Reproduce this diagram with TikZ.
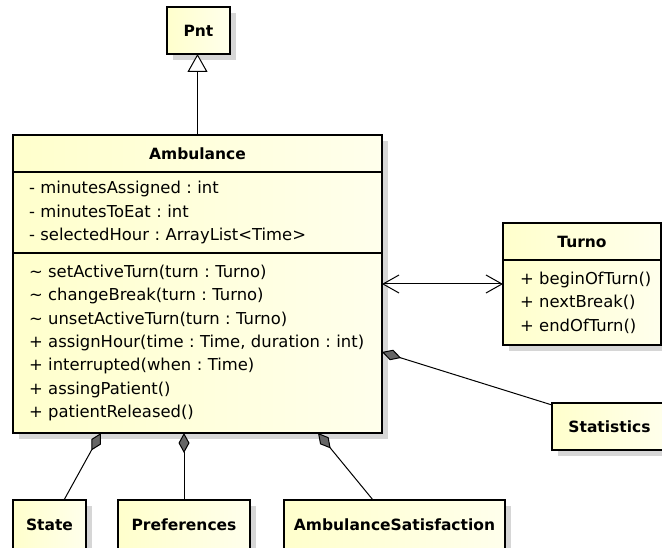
\documentclass[tikz,border=0pt]{standalone}
\usepackage{fontspec}
\setmainfont{DejaVu Sans}
\usepackage{tikz}
\usetikzlibrary{arrows.meta,positioning,shadows}
\definecolor{umlFillA}{RGB}{255,255,204}
\definecolor{umlFillB}{RGB}{255,255,236}
\definecolor{umlShade}{RGB}{214,214,214}
\newcommand\umlBodyFont{\fontsize{16.4}{23.4}\selectfont\frenchspacing\hyphenpenalty=10000 \exhyphenpenalty=10000 }
\tikzset{
  umlPart/.style={draw, line width=1.2pt, outer sep=0pt, inner sep=0pt, left color=umlFillA, right color=umlFillB, general shadow={fill=umlShade, shadow xshift=6pt, shadow yshift=-6pt}},
  umlHead/.style={umlPart, font=\fontsize{15.5}{18}\selectfont\bfseries, minimum height=37pt},
  umlBody/.style={umlPart, align=left, font=\umlBodyFont, inner xsep=16pt},
  umlBox/.style={umlHead, line width=2.2pt, minimum height=47pt},
  umlFrame/.style={line width=2.2pt},
  umlInherit/.style={-{Triangle[length=18pt, width=20pt, fill=white]}, line width=1pt},
  umlAssoc/.style={{Straight Barb[length=16pt, width=18pt]}-{Straight Barb[length=16pt, width=18pt]}, line width=1pt},
  umlCompo/.style={-{Diamond[length=20pt, width=11pt, fill=black!60]}, line width=1pt}
}
\begin{document}
\begin{tikzpicture}[x=1pt, y=-1pt, >=Latex]
  \useasboundingbox (0,0) rectangle (662,548);
  \node[umlBox, minimum width=63pt] (pnt) at (198.5,30.5) {Pnt};
  \node[umlHead, minimum width=369pt] (ambHead) at (197.5,153.5) {Ambulance};
  \node[umlBody, text width=337pt, minimum height=81pt, below=0pt of ambHead] (ambAttr) {- minutesAssigned : int\\- minutesToEat : int\\- selectedHour : ArrayList<Time>};
  \node[umlBody, text width=337pt, minimum height=180pt, below=0pt of ambAttr] (ambOps) {\textasciitilde{} setActiveTurn(turn : Turno)\\\textasciitilde{} changeBreak(turn : Turno)\\\textasciitilde{} unsetActiveTurn(turn : Turno)\\+ assignHour(time : Time, duration : int)\\+ interrupted(when : Time)\\+ assingPatient()\\+ patientReleased()};
  \draw[umlFrame] (ambHead.north west) rectangle (ambOps.south east);
  \node[umlHead, minimum width=158pt] (turnoHead) at (582,241.5) {Turno};
  \node[umlBody, inner xsep=17pt, text width=124pt, minimum height=85pt, below=0pt of turnoHead] (turnoOps) {+~beginOfTurn()\\+~nextBreak()\\+~endOfTurn()};
  \draw[umlFrame] (turnoHead.north west) rectangle (turnoOps.south east);
  \node[umlBox, minimum width=115pt] (stats) at (609.5,426.5) {Statistics};
  \node[umlBox, minimum width=73pt, minimum height=50pt] (state) at (49.5,525) {State};
  \node[umlBox, minimum width=132pt, minimum height=50pt] (prefs) at (184,525) {Preferences};
  \node[umlBox, minimum width=221pt, minimum height=50pt] (ambSat) at (394.5,525) {AmbulanceSatisfaction};
  \coordinate (assocR) at ([yshift=18.5pt]turnoOps.west);
  \draw[umlInherit] (ambHead.north) -- (ambHead.north |- pnt.south);
  \draw[umlAssoc] (ambOps.east |- assocR) -- (assocR);
  \draw[umlCompo] ([yshift=-2pt]stats.north west) -- ([yshift=-9pt]ambOps.east);
  \draw[umlCompo] ([xshift=14.5pt]state.north) -- ([xshift=-96.5pt]ambOps.south);
  \draw[umlCompo] (prefs.north) -- (prefs.north |- ambOps.south);
  \draw[umlCompo] ([xshift=-21.5pt]ambSat.north) -- ([xshift=120.5pt]ambOps.south);
\end{tikzpicture}
\end{document}
